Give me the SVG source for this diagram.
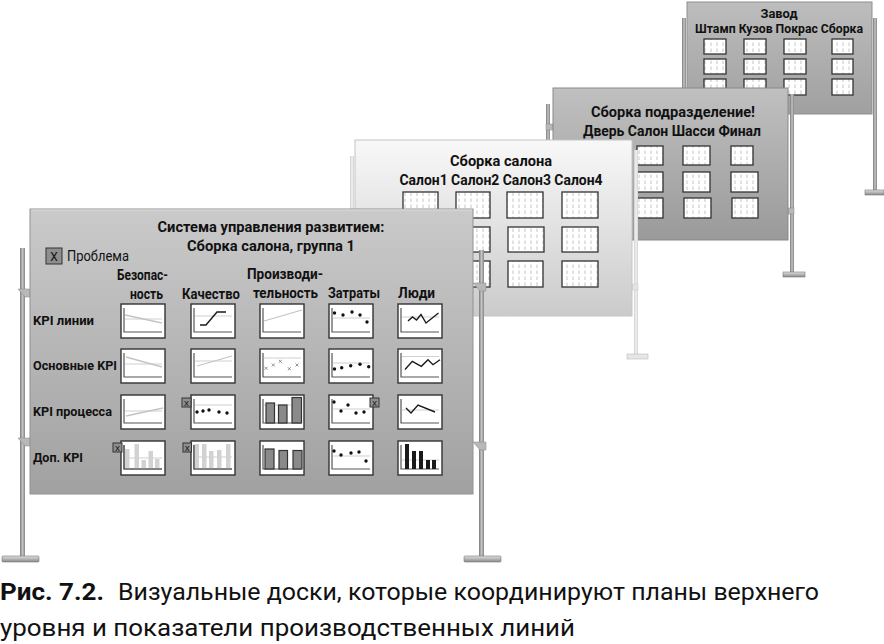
<svg xmlns="http://www.w3.org/2000/svg" xmlns:xlink="http://www.w3.org/1999/xlink" width="884" height="644" viewBox="0 0 884 644">
<style>
.t{font-family:Roboto,"Liberation Sans",sans-serif;fill:#111}
.b{font-weight:700}
.m{font-weight:700}
.box{fill:#fff;stroke:#333;stroke-width:1.4}
.ax{fill:none;stroke:#555;stroke-width:1.2}
.tg{fill:none;stroke:#d0d0d0;stroke-width:1.2}
.lg{fill:none;stroke:#c4c4c4;stroke-width:1.3}
.dk{fill:none;stroke:#1a1a1a;stroke-width:1.4}
.dot{fill:#111}
.xm{fill:none;stroke:#777;stroke-width:0.8}
.lbar{fill:#d2d2d2}
.gbar{fill:#8a8a8a;stroke:#333;stroke-width:1.2}
.kbar{fill:#1a1a1a}
.tile{fill:url(#tex);stroke:#333;stroke-width:1.3}
.flag{fill:#8e8e8e;stroke:#333;stroke-width:1}
.pole{fill:url(#poleG)}
.lpole{fill:url(#lpoleG)}
.foot{fill:url(#footG);stroke:#777;stroke-width:0.6}
.lfoot{fill:#e6e6e6;stroke:#bbb;stroke-width:0.6}
.br{fill:#b8b8b8;stroke:#888;stroke-width:0.5}
</style>
<defs>
<linearGradient id="g1" x1="0" y1="0" x2="0" y2="1"><stop offset="0" stop-color="#cacaca"/><stop offset="1" stop-color="#a1a1a1"/></linearGradient>
<linearGradient id="g2" x1="0" y1="0" x2="0" y2="1"><stop offset="0" stop-color="#f8f8f8"/><stop offset="1" stop-color="#cbcbcb"/></linearGradient>
<linearGradient id="g3" x1="0" y1="0" x2="0" y2="1"><stop offset="0" stop-color="#c0c0c0"/><stop offset="1" stop-color="#9a9a9a"/></linearGradient>
<linearGradient id="g4" x1="0" y1="0" x2="0" y2="1"><stop offset="0" stop-color="#bdbdbd"/><stop offset="1" stop-color="#a0a0a0"/></linearGradient>
<linearGradient id="poleG" x1="0" y1="0" x2="1" y2="0"><stop offset="0" stop-color="#7a7a7a"/><stop offset="0.5" stop-color="#c4c4c4"/><stop offset="1" stop-color="#858585"/></linearGradient>
<linearGradient id="lpoleG" x1="0" y1="0" x2="1" y2="0"><stop offset="0" stop-color="#cfcfcf"/><stop offset="0.5" stop-color="#f2f2f2"/><stop offset="1" stop-color="#d2d2d2"/></linearGradient>
<linearGradient id="footG" x1="0" y1="0" x2="0" y2="1"><stop offset="0" stop-color="#e0e0e0"/><stop offset="1" stop-color="#8a8a8a"/></linearGradient>
<pattern id="tex" width="6" height="6" patternUnits="userSpaceOnUse"><rect width="6" height="6" fill="#fff"/><line x1="3" y1="0.5" x2="3" y2="4" stroke="#bdbdbd" stroke-width="0.9"/></pattern>
<g id="frame"><rect class="box" x="0" y="0" width="44" height="34"/><path class="ax" d="M3,4V28H41"/></g>
</defs>

<!-- Board 4: Завод -->
<g id="board-zavod">
<rect class="pole" x="682" y="18" width="4" height="90"/>
<rect class="pole" x="873" y="18" width="4" height="175"/>
<rect class="foot" x="865" y="190" width="19" height="5"/>
<rect x="687" y="2" width="185" height="112" fill="url(#g4)" stroke="#8f8f8f" stroke-width="1"/>
<text class="t b" x="779" y="18" font-size="13" text-anchor="middle" textLength="37" lengthAdjust="spacingAndGlyphs">Завод</text>
<text class="t m" x="779" y="33" font-size="13" text-anchor="middle" textLength="168" lengthAdjust="spacingAndGlyphs">Штамп Кузов Покрас Сборка</text>
<rect class="tile" x="704" y="39" width="22" height="15"/><rect class="tile" x="744" y="39" width="22" height="15"/><rect class="tile" x="784" y="39" width="22" height="15"/><rect class="tile" x="832" y="39" width="21" height="15"/>
<rect class="tile" x="704" y="59" width="22" height="15"/><rect class="tile" x="744" y="59" width="22" height="15"/><rect class="tile" x="784" y="59" width="22" height="15"/><rect class="tile" x="832" y="59" width="21" height="15"/>
<rect class="tile" x="704" y="79" width="22" height="16"/><rect class="tile" x="744" y="79" width="22" height="16"/><rect class="tile" x="784" y="79" width="22" height="16"/><rect class="tile" x="832" y="79" width="21" height="16"/>
</g>

<!-- Board 3: Сборка подразделение -->
<g id="board-podrazdelenie">
<rect class="pole" x="546" y="104" width="4" height="60"/>
<rect class="br" x="546" y="124" width="7" height="6"/>
<rect class="pole" x="790" y="94" width="4" height="180"/>
<rect class="br" x="788" y="208" width="6" height="6"/>
<rect class="foot" x="783" y="272" width="22" height="5"/>
<rect x="553" y="88" width="235" height="152" fill="url(#g3)" stroke="#8a8a8a" stroke-width="1"/>
<text class="t b" x="673" y="117" font-size="14" text-anchor="middle" textLength="164" lengthAdjust="spacingAndGlyphs">Сборка подразделение!</text>
<text class="t m" x="672" y="136" font-size="14" text-anchor="middle" textLength="178" lengthAdjust="spacingAndGlyphs">Дверь Салон Шасси Финал</text>
<rect class="tile" x="590" y="146" width="26" height="19"/><rect class="tile" x="637" y="146" width="26" height="19"/><rect class="tile" x="683" y="146" width="27" height="19"/><rect class="tile" x="731" y="146" width="22" height="19"/>
<rect class="tile" x="590" y="172" width="26" height="20"/><rect class="tile" x="637" y="172" width="26" height="20"/><rect class="tile" x="683" y="172" width="27" height="20"/><rect class="tile" x="731" y="172" width="27" height="20"/>
<rect class="tile" x="590" y="198" width="26" height="20"/><rect class="tile" x="637" y="198" width="26" height="20"/><rect class="tile" x="684" y="198" width="27" height="20"/><rect class="tile" x="732" y="198" width="26" height="20"/>
</g>

<!-- Board 2: Сборка салона -->
<g id="board-salon">
<rect class="lpole" x="350" y="156" width="4" height="80"/>
<rect class="lpole" x="634" y="150" width="4" height="206"/>
<rect x="632" y="284" width="6" height="6" fill="#e4e4e4" stroke="#c8c8c8" stroke-width="0.5"/>
<rect class="lfoot" x="627" y="354" width="21" height="5"/>
<rect x="355" y="140" width="277" height="176" fill="url(#g2)" stroke="#c4c4c4" stroke-width="1"/>
<text class="t b" x="501" y="166" font-size="14" text-anchor="middle" textLength="102" lengthAdjust="spacingAndGlyphs">Сборка салона</text>
<text class="t m" x="501" y="185" font-size="14" text-anchor="middle" textLength="203" lengthAdjust="spacingAndGlyphs">Салон1 Салон2 Салон3 Салон4</text>
<rect class="tile" x="403" y="192" width="35" height="26"/><rect class="tile" x="456" y="192" width="34" height="26"/><rect class="tile" x="507" y="192" width="36" height="26"/><rect class="tile" x="562" y="192" width="36" height="26"/>
<rect class="tile" x="403" y="227" width="35" height="25"/><rect class="tile" x="456" y="227" width="34" height="25"/><rect class="tile" x="508" y="227" width="36" height="25"/><rect class="tile" x="562" y="227" width="36" height="25"/>
<rect class="tile" x="403" y="261" width="35" height="26"/><rect class="tile" x="456" y="261" width="34" height="26"/><rect class="tile" x="508" y="261" width="35" height="26"/><rect class="tile" x="562" y="261" width="36" height="26"/>
</g>

<!-- Board 1: front -->
<g id="board-front">
<rect class="pole" x="20" y="248" width="5" height="310"/>
<path class="br" d="M18,289H30V297H25Z"/>
<path class="br" d="M18,438H30V446H25Z"/>
<rect class="foot" x="2" y="556" width="37" height="6" rx="1"/>
<rect class="pole" x="479" y="250" width="5" height="308"/>
<path class="br" d="M473,283H486V291H480Z"/>
<path class="br" d="M473,442H486V450H480Z"/>
<rect class="foot" x="464" y="556" width="37" height="6" rx="1"/>
<rect x="30" y="209" width="443" height="285" fill="url(#g1)" stroke="#929292" stroke-width="1"/>
<line x1="31" y1="210" x2="472" y2="210" stroke="#dedede" stroke-width="1"/>
<text class="t b" x="271" y="232" font-size="14.5" text-anchor="middle" textLength="227" lengthAdjust="spacingAndGlyphs">Система управления развитием:</text>
<text class="t b" x="271" y="251" font-size="14.5" text-anchor="middle" textLength="168" lengthAdjust="spacingAndGlyphs">Сборка салона, группа 1</text>
<rect class="flag" x="46" y="248" width="16" height="16"/>
<text class="t" x="54" y="261" font-size="12" text-anchor="middle" fill="#222">X</text>
<text class="t" x="67" y="261" font-size="14" textLength="62" lengthAdjust="spacingAndGlyphs">Проблема</text>
<text class="t m" x="117" y="280" font-size="14" textLength="51" lengthAdjust="spacingAndGlyphs">Безопас-</text>
<text class="t m" x="130" y="299" font-size="14" textLength="33" lengthAdjust="spacingAndGlyphs">ность</text>
<text class="t m" x="182" y="299" font-size="14" textLength="58" lengthAdjust="spacingAndGlyphs">Качество</text>
<text class="t m" x="247" y="279" font-size="14" textLength="76" lengthAdjust="spacingAndGlyphs">Производи-</text>
<text class="t m" x="253" y="298" font-size="14" textLength="65" lengthAdjust="spacingAndGlyphs">тельность</text>
<text class="t m" x="328" y="298" font-size="14" textLength="52" lengthAdjust="spacingAndGlyphs">Затраты</text>
<text class="t m" x="398" y="298" font-size="14" textLength="37" lengthAdjust="spacingAndGlyphs">Люди</text>
<text class="t m" x="33" y="325" font-size="13.5" textLength="61" lengthAdjust="spacingAndGlyphs">KPI линии</text>
<text class="t m" x="33" y="370" font-size="13.5" textLength="84" lengthAdjust="spacingAndGlyphs">Основные KPI</text>
<text class="t m" x="33" y="416" font-size="13.5" textLength="79" lengthAdjust="spacingAndGlyphs">KPI процесса</text>
<text class="t m" x="33" y="462" font-size="13.5" textLength="50" lengthAdjust="spacingAndGlyphs">Доп. KPI</text>

<!-- Row 1 -->
<g transform="translate(121,304)"><use href="#frame"/><path class="tg" d="M4,15H41"/><path class="lg" d="M4,11L41,19"/></g>
<g transform="translate(191,304)"><use href="#frame"/><path class="tg" d="M4,12H41"/><path class="dk" d="M9,21H15L26,8H35"/></g>
<g transform="translate(260,304)"><use href="#frame"/><path class="lg" d="M4,17L42,6"/></g>
<g transform="translate(329,304)"><use href="#frame"/><path class="tg" d="M4,14H41"/><circle class="dot" cx="5.5" cy="9" r="1.7"/><circle class="dot" cx="14" cy="11" r="1.7"/><circle class="dot" cx="23" cy="8" r="1.7"/><circle class="dot" cx="31" cy="11" r="1.7"/><circle class="dot" cx="38" cy="18" r="1.7"/></g>
<g transform="translate(398,304)"><use href="#frame"/><path class="tg" d="M4,13H41"/><path class="dk" d="M10,17L14.5,13L18.5,16L23,10.5L28,19L40.5,9"/></g>

<!-- Row 2 -->
<g transform="translate(121,349)"><use href="#frame"/><path class="tg" d="M4,15H41"/><path class="lg" d="M5,8L41,18"/></g>
<g transform="translate(191,349)"><use href="#frame"/><path class="tg" d="M4,12H41"/><path class="lg" d="M6,17L41,7"/></g>
<g transform="translate(260,349)"><use href="#frame"/><path class="tg" d="M4,9H41"/><path class="xm" d="M4.5,17.8l3,3m0,-3l-3,3M11.8,14.5l3,3m0,-3l-3,3M18.8,10.8l3,3m0,-3l-3,3M27.8,18.2l3,3m0,-3l-3,3M35.5,14.5l3,3m0,-3l-3,3"/></g>
<g transform="translate(329,349)"><use href="#frame"/><path class="tg" d="M4,14H41"/><circle class="dot" cx="5.5" cy="20" r="1.7"/><circle class="dot" cx="12.7" cy="18.7" r="1.7"/><circle class="dot" cx="21.7" cy="16.7" r="1.7"/><circle class="dot" cx="31" cy="15.3" r="1.7"/><circle class="dot" cx="39.7" cy="17.7" r="1.7"/></g>
<g transform="translate(398,349)"><use href="#frame"/><path class="tg" d="M4,7.5H41"/><path class="dk" d="M7,20.5L14.3,12.3L23.3,17.3L30,10.7L35,15.7L42,10.7"/></g>

<!-- Row 3 -->
<g transform="translate(121,395)"><use href="#frame"/><path class="tg" d="M4,16H41"/><path class="lg" d="M5,21L42,13"/></g>
<g transform="translate(191,395)"><use href="#frame"/><path class="tg" d="M4,10H41"/><circle class="dot" cx="6" cy="17" r="1.7"/><circle class="dot" cx="12" cy="16" r="1.7"/><circle class="dot" cx="18" cy="15" r="1.7"/><circle class="dot" cx="28" cy="17" r="1.7"/><circle class="dot" cx="36" cy="18" r="1.7"/></g>
<g transform="translate(260,395)"><use href="#frame"/><path class="tg" d="M4,10H41"/><rect class="gbar" x="6" y="8" width="8.5" height="20"/><rect class="gbar" x="18.5" y="10" width="8.5" height="18"/><rect class="gbar" x="32" y="2.5" width="9.5" height="25.5"/></g>
<g transform="translate(329,395)"><use href="#frame"/><path class="tg" d="M4,14H41"/><circle class="dot" cx="5" cy="7" r="1.7"/><circle class="dot" cx="12" cy="16" r="1.7"/><circle class="dot" cx="19" cy="10" r="1.7"/><circle class="dot" cx="27" cy="18" r="1.7"/><circle class="dot" cx="35" cy="17" r="1.7"/></g>
<g transform="translate(398,395)"><use href="#frame"/><path class="tg" d="M4,15H41"/><path class="dk" d="M8,13L13,18L20,10L37,17"/></g>

<!-- Row 4 -->
<g transform="translate(121,441)"><use href="#frame"/><rect class="lbar" x="4" y="8" width="4.5" height="19.5"/><rect class="lbar" x="13.5" y="3" width="4.5" height="24.5"/><rect class="lbar" x="20.5" y="19" width="4.5" height="8.5"/><rect class="lbar" x="27.5" y="10" width="4.5" height="17.5"/><rect class="lbar" x="34" y="18" width="4.5" height="9.5"/><path class="tg" d="M4,17H41"/><path class="ax" d="M3,4V28H41"/></g>
<g transform="translate(191,441)"><use href="#frame"/><rect class="lbar" x="3.5" y="3" width="4.5" height="24.5"/><rect class="lbar" x="11" y="3" width="4.5" height="24.5"/><rect class="lbar" x="18" y="10" width="4.5" height="17.5"/><rect class="lbar" x="26" y="9" width="4.5" height="18.5"/><rect class="lbar" x="35" y="3" width="4.5" height="24.5"/><path class="tg" d="M4,16H41"/><path class="ax" d="M3,4V28H41"/></g>
<g transform="translate(260,441)"><use href="#frame"/><rect class="gbar" x="5" y="8" width="9" height="20"/><rect class="gbar" x="19" y="9.5" width="8.5" height="18.5"/><rect class="gbar" x="33" y="9.5" width="9" height="18.5"/></g>
<g transform="translate(329,441)"><use href="#frame"/><path class="tg" d="M4,15H41"/><circle class="dot" cx="5" cy="10" r="1.7"/><circle class="dot" cx="12" cy="14" r="1.7"/><circle class="dot" cx="22" cy="12" r="1.7"/><circle class="dot" cx="30" cy="11" r="1.7"/><circle class="dot" cx="37" cy="20" r="1.7"/></g>
<g transform="translate(398,441)"><use href="#frame"/><path class="tg" d="M4,19H41"/><rect class="kbar" x="7" y="3" width="4" height="25"/><rect class="kbar" x="14" y="10" width="4" height="18"/><rect class="kbar" x="21" y="10" width="4" height="18"/><rect class="kbar" x="28" y="19" width="4" height="9"/><rect class="kbar" x="34" y="19" width="4" height="9"/></g>

<!-- problem flags -->
<rect class="flag" x="182" y="398" width="9" height="9"/><text class="t" x="186.5" y="405.5" font-size="8" text-anchor="middle">X</text>
<rect class="flag" x="370" y="398" width="9" height="9"/><text class="t" x="374.5" y="405.5" font-size="8" text-anchor="middle">X</text>
<rect class="flag" x="113" y="443" width="9" height="9"/><text class="t" x="117.5" y="450.5" font-size="8" text-anchor="middle">X</text>
<rect class="flag" x="183" y="443" width="8.5" height="9"/><text class="t" x="187.3" y="450.5" font-size="8" text-anchor="middle">X</text>
</g>

<!-- Caption -->
<g id="caption">
<text class="t b" x="0" y="600" font-size="23" textLength="104" lengthAdjust="spacingAndGlyphs" fill="#1a1a1a">Рис. 7.2.</text>
<text class="t" x="118" y="600" font-size="23" textLength="701" lengthAdjust="spacingAndGlyphs" fill="#1a1a1a">Визуальные доски, которые координируют планы верхнего</text>
<text class="t" x="0" y="636" font-size="23" textLength="575" lengthAdjust="spacingAndGlyphs" fill="#1a1a1a">уровня и показатели производственных линий</text>
</g>
<g id="connectors"/>
</svg>
